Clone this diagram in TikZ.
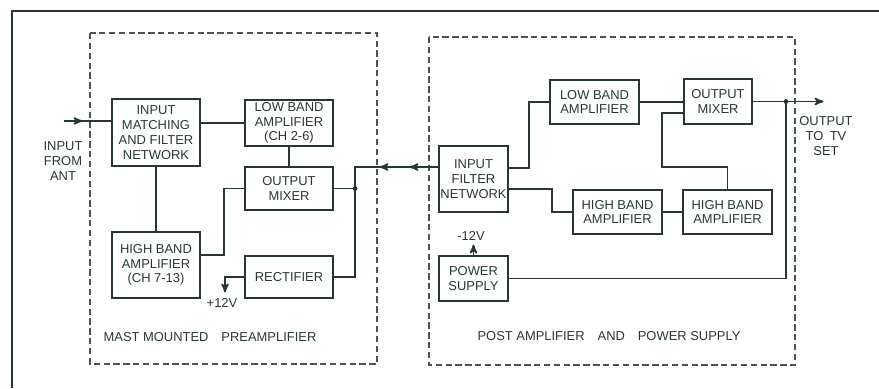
\documentclass[tikz,border=0pt]{standalone}
\usepackage{fontspec}
\setmainfont{Liberation Sans}
\usetikzlibrary{arrows, positioning}
\definecolor{ink}{RGB}{40,55,50}
\tikzstyle{block} = [rectangle, draw=ink, line width=1.4pt, inner sep=0pt, align=center, text=ink, font=\fontsize{9.2}{10.5}\selectfont]
\tikzstyle{label} = [align=center, text=ink, inner sep=0pt, font=\fontsize{9.2}{10.5}\selectfont]
\tikzstyle{wire} = [draw=ink, line width=1.2pt]
\tikzstyle{arrow} = [wire, ->, >=stealth', shorten >=-1pt]
\tikzstyle{frame} = [draw=ink!85, line width=0.8pt, dash pattern=on 4.5pt off 2.5pt]

\begin{document}
\begin{tikzpicture}[x=0.025cm, y=-0.025cm]
    \useasboundingbox (0,0) rectangle (879,388);
    \draw[draw=ink, line width=1.6pt] (12,388) -- (12,11) -- (879,11);
    \draw[frame] (90,33) rectangle (377,364);
    \draw[frame] (429,37) rectangle (795,365);

    % mast mounted preamplifier
    \node (match) [block, minimum width=2.2cm, minimum height=1.675cm] at (156,132.5) {INPUT\\MATCHING\\AND FILTER\\NETWORK};
    \node (lowL) [block, minimum width=2.2cm, minimum height=1.15cm] at (289,123) {LOW BAND\\AMPLIFIER\\(CH 2-6)};
    \node (mixL) [block, minimum width=2.2cm, minimum height=1.075cm] at (289,188.5) {OUTPUT\\MIXER};
    \node (highL) [block, minimum width=2.2cm, minimum height=1.65cm] at (156,265) {HIGH BAND\\AMPLIFIER\\(CH 7-13)};
    \node (rect) [block, minimum width=2.2cm, minimum height=1.05cm] at (289,277) {RECTIFIER};
    \node (inlab) [label] at (63,161) {INPUT\\FROM\\ANT};
    \node (p12) [label] at (222,303) {+12V};
    \node (mastlab) [label] at (210,337) {MAST MOUNTED\quad PREAMPLIFIER};

    % post amplifier and power supply
    \node (filt) [block, minimum width=1.725cm, minimum height=1.65cm] at (473.5,179) {INPUT\\FILTER\\NETWORK};
    \node (lowR) [block, minimum width=2.225cm, minimum height=1.1cm] at (594.5,102) {LOW BAND\\AMPLIFIER};
    \node (mixR) [block, minimum width=1.7cm, minimum height=1.125cm] at (718,101.5) {OUTPUT\\MIXER};
    \node (high1) [block, minimum width=2.225cm, minimum height=1.1cm] at (617.5,212) {HIGH BAND\\AMPLIFIER};
    \node (high2) [block, minimum width=2.225cm, minimum height=1.1cm] at (727.5,212) {HIGH BAND\\AMPLIFIER};
    \node (power) [block, minimum width=1.725cm, minimum height=1.125cm] at (473.5,278.5) {POWER\\SUPPLY};
    \node (outlab) [label] at (826,136) {OUTPUT\\TO\enspace TV\\SET};
    \node (m12) [label] at (471,236) {-12V};
    \node (postlab) [label] at (609,336) {POST AMPLIFIER\quad AND\quad POWER SUPPLY};

    \coordinate (inS) at (64,121);
    \coordinate (inM) at (81,121);
    \coordinate (jL) at (355,188.5);
    \coordinate (tipA) at (411,167);
    \coordinate (tipB) at (381,167);
    \coordinate (v12) at (225,291);
    \coordinate (bendR) at (662,167);
    \coordinate (jR) at (786,101.5);
    \coordinate (outE) at (822,101.5);
    \coordinate (up12) at (473.5,246);

    \draw [arrow] (inS) -- (inM);
    \draw [wire] (inM) -- (inM -| match.west);
    \draw [wire] (match.east |- lowL.west) -- (lowL.west);
    \draw [wire] (match) -- (highL);
    \draw [wire] (lowL) -- (mixL);
    \draw [wire] ([yshift=0.25cm]highL.east) -- ++(23,0) |- (mixL.west);
    \draw [wire] (mixL.east) -- (jL);
    \draw [wire] (rect.east) -| (jL);
    \draw [arrow] ([yshift=0.3cm]filt.west) -- (tipA);
    \draw [arrow] (tipA) -- (tipB);
    \draw [wire] (tipB) -| (jL);
    \draw [arrow] (rect.west) -| (v12);
    \fill [ink] (jL) circle (2.4);

    \draw [wire] ([yshift=0.275cm]filt.east) -- ++(20,0) |- (lowR.west);
    \draw [wire] ([yshift=-0.25cm]filt.east) -- ++(43,0) |- (high1.west);
    \draw [wire] (lowR.east) -- (lowR.east -| mixR.west);
    \draw [wire] (high1) -- (high2);
    \draw [wire] (high2.north) |- (bendR) |- ([yshift=-0.29cm]mixR.west);
    \draw [wire] (mixR.east) -- (jR);
    \draw [arrow] (jR) -- (outE);
    \draw [wire] (power.east) -| (jR);
    \draw [arrow] (power.north) -- (up12);
    \fill [ink] (jR) circle (2.4);
\end{tikzpicture}
\end{document}
